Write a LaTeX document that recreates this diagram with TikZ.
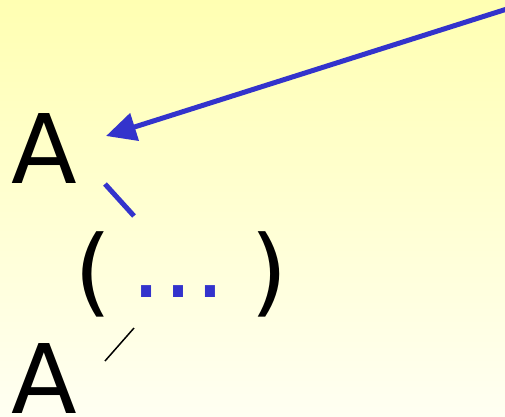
\documentclass[tikz,border=0pt]{standalone}
\usepackage{fontspec}
\setmainfont{DejaVu Sans}
\usetikzlibrary{arrows.meta}
\definecolor{lineblue}{RGB}{51,51,204}
\definecolor{bgtop}{RGB}{255,255,178}
\definecolor{bgbot}{RGB}{255,255,242}
\begin{document}
\begin{tikzpicture}[x=1pt,y=-1pt,
  big/.style={inner sep=0pt,outer sep=0pt,anchor=base west,font=\fontsize{96}{96}\selectfont},
  bluelink/.style={draw=lineblue,line width=5pt},
  blacklink/.style={draw=black,line width=1.5pt}]
\shade[top color=bgtop,bottom color=bgbot] (0,0) rectangle (505,416);
\useasboundingbox (0,0) rectangle (505,416);
\node[big] (A1) at (12,183) {A};
\node[big] (A2) at (12,413) {A};
\node[big] (lp) at (74,304) {(};
\node[big,text=lineblue] (dots) at (130,297) {…};
\node[big] (rp) at (250,304) {)};
\coordinate (tail) at (507,9);
\coordinate (head) at (106,136);
\coordinate (b1) at (105,184);
\coordinate (b2) at (134,216);
\coordinate (k1) at (105,361);
\coordinate (k2) at (134,328);
\draw[bluelink,-{Triangle[length=30pt,width=28pt]}] (tail) -- (head);
\draw[bluelink] (b1) -- (b2);
\draw[blacklink] (k1) -- (k2);
\end{tikzpicture}
\end{document}
